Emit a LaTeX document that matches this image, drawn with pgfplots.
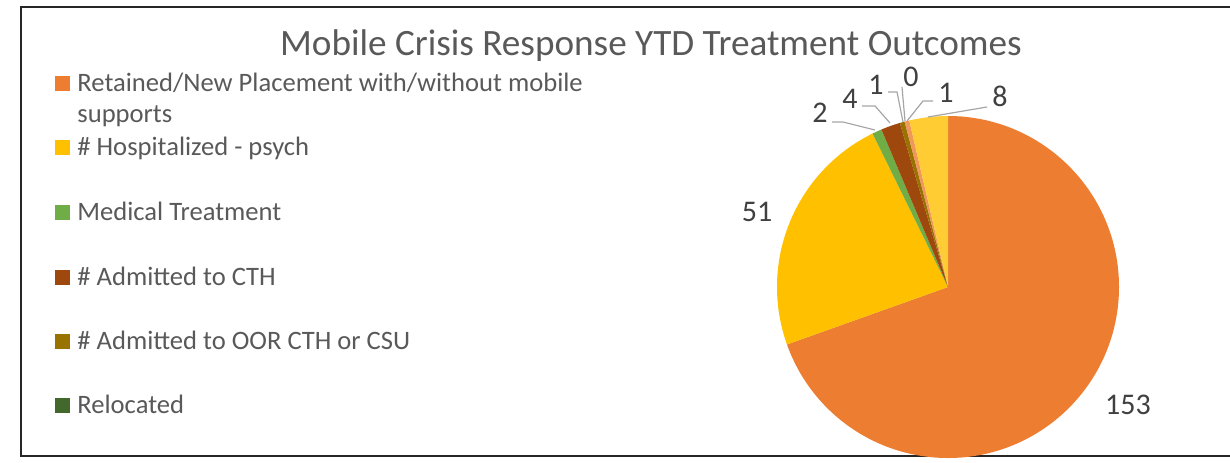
\documentclass[border=0pt]{standalone}
\usepackage{pgfplots}
\pgfplotsset{compat=1.18}
\usepackage{pgfplotstable}
\usepackage{fontspec}
\setmainfont{Carlito}

\definecolor{cRet}{HTML}{ED7D31}
\definecolor{cHosp}{HTML}{FFC000}
\definecolor{cMed}{HTML}{70AD47}
\definecolor{cCTH}{HTML}{9E480E}
\definecolor{cOOR}{HTML}{997300}
\definecolor{cReloc}{HTML}{43682B}
\definecolor{cOther}{HTML}{F1975A}
\definecolor{cOther2}{HTML}{FFCD33}
\definecolor{txt}{HTML}{595959}
\definecolor{lbl}{HTML}{404040}
\definecolor{leader}{HTML}{A6A6A6}

% slices clockwise from 12 o'clock; lx/ly = label position in pixels (y down)
\pgfplotstableread{
value col     lx   ly
153   cRet    1128 405
51    cHosp   757  212
2     cMed    820  113
4     cCTH    850  99
1     cOOR    876  85
0     cReloc  911  77
1     cOther  946  93
8     cOther2 1000 96
}\piedata

\begin{document}
\begin{tikzpicture}[legtext/.style={anchor=base west, text=txt, font=\fontsize{13.3}{15}\selectfont, inner sep=0pt}]
% total and slice angles
\gdef\total{0}
\foreach \i in {0,...,7}{
  \pgfplotstablegetelem{\i}{value}\of\piedata
  \pgfmathsetmacro{\tmp}{\total+\pgfplotsretval}
  \xdef\total{\tmp}
}
\gdef\cum{0}
\foreach \i in {0,...,7}{
  \pgfplotstablegetelem{\i}{value}\of\piedata
  \edef\val{\pgfplotsretval}
  \pgfmathsetmacro{\angA}{90-360*(\cum/\total)}
  \pgfmathsetmacro{\cumB}{\cum+\val}
  \pgfmathsetmacro{\angB}{90-360*(\cumB/\total)}
  \expandafter\xdef\csname sa\i\endcsname{\angA}
  \expandafter\xdef\csname ea\i\endcsname{\angB}
  \pgfmathtruncatemacro{\vint}{\val}
  \expandafter\xdef\csname val\i\endcsname{\vint}
  \pgfplotstablegetelem{\i}{col}\of\piedata
  \expandafter\xdef\csname col\i\endcsname{\pgfplotsretval}
  \pgfplotstablegetelem{\i}{lx}\of\piedata
  \expandafter\xdef\csname lx\i\endcsname{\pgfplotsretval}
  \pgfplotstablegetelem{\i}{ly}\of\piedata
  \pgfmathsetmacro{\yy}{462-\pgfplotsretval}
  \expandafter\xdef\csname ly\i\endcsname{\yy}
  \xdef\cum{\cumB}
}
\begin{axis}[
    hide axis,
    x=0.5pt, y=0.5pt,
    xmin=0, xmax=1230, ymin=0, ymax=462,
    clip=false,
]
% frame
\draw[line width=1.2pt, black!85] (axis cs:1230,6) -- (axis cs:21,6) -- (axis cs:21,455) -- (axis cs:1230,455);

% title
\node[text=txt, font=\fontsize{18.6}{22}\selectfont] at (axis cs:651,416) {Mobile Crisis Response YTD Treatment Outcomes};

% pie slices
\pgfplotsinvokeforeach{0,...,7}{
  \fill[\csname col#1\endcsname] (axis cs:948,175) -- ++(\csname sa#1\endcsname:85.5pt)
    arc[start angle=\csname sa#1\endcsname, end angle=\csname ea#1\endcsname, radius=85.5pt] -- cycle;
}

% leader lines
\draw[leader, line width=0.6pt] (axis cs:832,340) -- (axis cs:843,340) -- (axis cs:875,332);
\draw[leader, line width=0.6pt] (axis cs:862,356) -- (axis cs:875,356) -- (axis cs:890,339);
\draw[leader, line width=0.6pt] (axis cs:888,370) -- (axis cs:897,370) -- (axis cs:903,340);
\draw[leader, line width=0.6pt] (axis cs:902,375) -- (axis cs:905,341);
\draw[leader, line width=0.6pt] (axis cs:933,361) -- (axis cs:923,361) -- (axis cs:907,341);
\draw[leader, line width=0.6pt] (axis cs:987,355) -- (axis cs:928,345);

% data labels
\pgfplotsinvokeforeach{0,...,7}{
  \node[text=lbl, font=\fontsize{15}{18}\selectfont] at (axis cs:\csname lx#1\endcsname,\csname ly#1\endcsname) {\csname val#1\endcsname};
}

% legend
\fill[cRet]   (axis cs:55,371) rectangle (axis cs:70,386);
\node[legtext] at (axis cs:77,371) {Retained/New Placement with/without mobile};
\node[legtext] at (axis cs:77,340) {supports};
\fill[cHosp]  (axis cs:55,307) rectangle (axis cs:70,322);
\node[legtext] at (axis cs:77,307) {\# Hospitalized - psych};
\fill[cMed]   (axis cs:55,242) rectangle (axis cs:70,257);
\node[legtext] at (axis cs:77,242) {Medical Treatment};
\fill[cCTH]   (axis cs:55,177) rectangle (axis cs:70,192);
\node[legtext] at (axis cs:77,177) {\# Admitted to CTH};
\fill[cOOR]   (axis cs:55,113) rectangle (axis cs:70,128);
\node[legtext] at (axis cs:77,113) {\# Admitted to OOR CTH or CSU};
\fill[cReloc] (axis cs:55,49) rectangle (axis cs:70,64);
\node[legtext] at (axis cs:77,49) {Relocated};
\end{axis}
\pgfresetboundingbox
\useasboundingbox (current axis.south west) rectangle (current axis.north east);
\end{tikzpicture}
\end{document}
